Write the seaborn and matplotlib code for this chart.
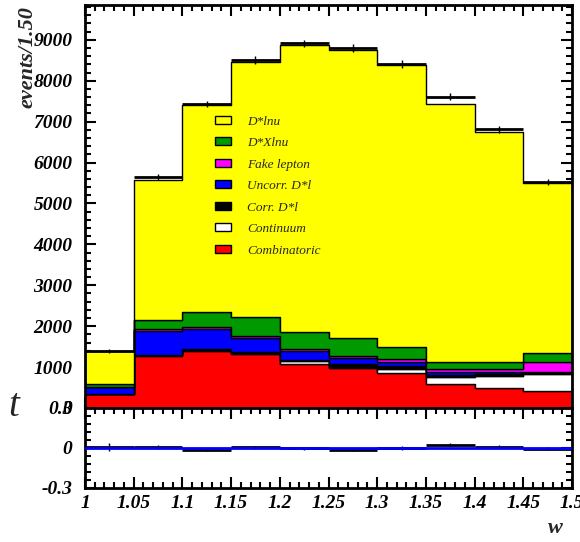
import numpy as np
import pandas as pd
import seaborn as sns
import matplotlib.pyplot as plt
from matplotlib.patches import Patch
from matplotlib.ticker import MultipleLocator, FixedLocator, FixedFormatter

# bins in w
bin_edges = [1.0, 1.05, 1.1, 1.15, 1.2, 1.25, 1.3, 1.35, 1.4, 1.45, 1.5]
bin_centers = [1.025, 1.075, 1.125, 1.175, 1.225, 1.275, 1.325, 1.375, 1.425, 1.475]

# stacked MC components (events per bin)
combinatoric = [330, 1272, 1394, 1313, 1080, 970, 848, 579, 481, 416]
continuum = [5, 13, 26, 32, 70, 40, 97, 171, 302, 407]
corr_dl = [5, 10, 23, 25, 20, 58, 82, 57, 48, 49]
uncorr_dl = [170, 593, 489, 350, 230, 147, 90, 65, 49, 13]
fake_lepton = [10, 36, 41, 49, 45, 65, 73, 73, 65, 248]
dxlnu = [70, 216, 377, 451, 421, 424, 294, 172, 175, 204]
dlnu = [800, 3440, 5055, 6240, 7014, 7046, 6906, 6303, 5620, 4173]

# data points
data = [1390, 5640, 7430, 8510, 8910, 8800, 8410, 7610, 6810, 5535]
data_err = [40, 75, 85, 92, 94, 94, 92, 87, 82, 74]

# lower panel residuals
resid = [0.010, 0.008, -0.012, 0.005, -0.002, -0.012, 0.0, 0.026, 0.010, -0.004]
resid_err = [0.03, 0.015, 0.012, 0.012, 0.012, 0.012, 0.012, 0.013, 0.012, 0.012]

labels = ['D*lnu', 'D*Xlnu', 'Fake lepton', 'Uncorr. D*l', 'Corr. D*l', 'Continuum', 'Combinatoric']
colors = ['#ffff00', '#009900', '#ff00ff', '#0000ff', '#000000', '#ffffff', '#ff0000']
components = [dlnu, dxlnu, fake_lepton, uncorr_dl, corr_dl, continuum, combinatoric]

xtick_vals = [1.0, 1.05, 1.1, 1.15, 1.2, 1.25, 1.3, 1.35, 1.4, 1.45, 1.5]
xtick_text = ['1', '1.05', '1.1', '1.15', '1.2', '1.25', '1.3', '1.35', '1.4', '1.45', '1.5']
ytick_vals = [0, 1000, 2000, 3000, 4000, 5000, 6000, 7000, 8000, 9000]

# long table for seaborn
rows = []
for lab, vals in zip(labels, components):
    for c, v in zip(bin_centers, vals):
        rows.append({'w': c, 'n': v, 'comp': lab})
df = pd.DataFrame(rows)

sns.set_theme(style="ticks")
plt.rcParams['font.family'] = ['Liberation Serif', 'DejaVu Serif']
plt.rcParams['font.style'] = 'italic'
plt.rcParams['font.weight'] = 'bold'
plt.rcParams['axes.linewidth'] = 2
plt.rcParams['xtick.labelsize'] = 14
plt.rcParams['ytick.labelsize'] = 14

fig = plt.figure(figsize=(5.8, 5.42), dpi=100)
ax1 = fig.add_axes([85 / 580, 1 - 408 / 542, 487 / 580, 403 / 542])
ax2 = fig.add_axes([85 / 580, 1 - 488 / 542, 487 / 580, 80 / 542])

# stacked histogram, last hue level goes to the bottom
sns.histplot(data=df, x='w', weights='n', hue='comp', hue_order=labels,
             palette=dict(zip(labels, colors)), multiple='stack', bins=bin_edges,
             element='step', alpha=1, edgecolor='black', linewidth=1,
             legend=False, ax=ax1)

# data: horizontal bars over each bin + error bars
ax1.hlines(data, bin_edges[:-1], bin_edges[1:], color='black', lw=2, zorder=5)
ax1.errorbar(bin_centers, data, yerr=data_err, fmt='none', ecolor='black',
             elinewidth=1, zorder=5)

ax1.set_xlim(1.0, 1.5)
ax1.set_ylim(0, 9850)
ax1.set_xlabel('')
ax1.set_ylabel('')
ax1.yaxis.set_major_locator(FixedLocator(ytick_vals))
ax1.yaxis.set_minor_locator(MultipleLocator(200))
ax1.xaxis.set_major_locator(FixedLocator(xtick_vals))
ax1.xaxis.set_minor_locator(MultipleLocator(0.01))
ax1.tick_params(axis='x', labelbottom=False)

handles = [Patch(facecolor=c, edgecolor='black', lw=1) for c in colors]
ax1.legend(handles, labels, loc='upper left', bbox_to_anchor=(0.254, 0.742),
           frameon=False, borderpad=0, handlelength=1.2, handleheight=0.55,
           handletextpad=1.2, labelspacing=0.72,
           prop={'family': 'Liberation Serif', 'style': 'italic',
                 'weight': 'normal', 'size': 9.5})

# lower panel
ax2.hlines(resid, bin_edges[:-1], bin_edges[1:], color='black', lw=2, zorder=3)
ax2.errorbar(bin_centers, resid, yerr=resid_err, fmt='none', ecolor='black',
             elinewidth=1, zorder=3)
ax2.axhline(0, color='#0000ff', lw=2, zorder=4)
ax2.set_xlim(1.0, 1.5)
ax2.set_ylim(-0.3, 0.3)
ax2.yaxis.set_major_locator(FixedLocator([-0.3, 0, 0.3]))
ax2.yaxis.set_major_formatter(FixedFormatter(['-0.3', '0', '0.3']))
ax2.yaxis.set_minor_locator(MultipleLocator(0.06))
ax2.xaxis.set_major_locator(FixedLocator(xtick_vals))
ax2.xaxis.set_major_formatter(FixedFormatter(xtick_text))
ax2.xaxis.set_minor_locator(MultipleLocator(0.01))

for ax in (ax1, ax2):
    ax.tick_params(which='both', direction='in', top=True, right=True,
                   width=1.5, colors='black')
    ax.tick_params(which='major', length=8)
    ax.tick_params(which='minor', length=4)
    ax.tick_params(axis='y', pad=9)
    ax.tick_params(axis='x', pad=5)
    for sp in ax.spines.values():
        sp.set_linewidth(2)
        sp.set_color('black')

fig.text(27 / 580, 1 - 6 / 542, 'events/1.50', rotation=90, ha='center', va='top',
         fontsize=16)
fig.text(555 / 580, 1 - 528 / 542, 'w', ha='center', va='center', fontsize=16)
fig.text(14 / 580, 1 - 406 / 542, 't', ha='center', va='center',
         fontsize=28, weight='normal')

fig.savefig('out.png', dpi=100)
plt.close(fig)
